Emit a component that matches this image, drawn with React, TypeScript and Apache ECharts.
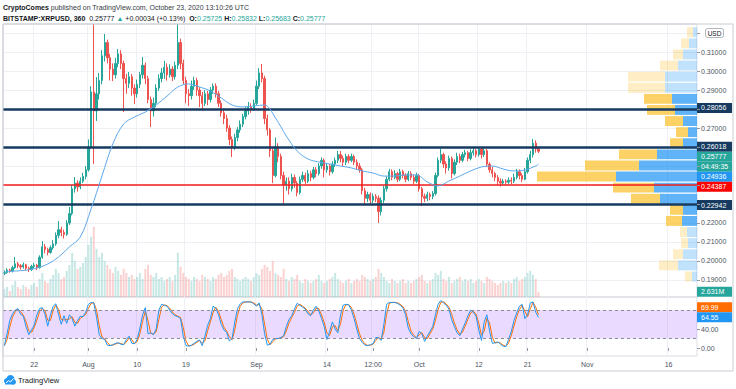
import React, { useEffect, useRef } from 'react';
import * as echarts from 'echarts';

// ---------- DATA (12-hour candles) ----------
const firstOpen = 0.1935;
const closes = [
  0.1940, 0.1952, 0.1948, 0.1965, 0.1985, 0.1975, 0.1968, 0.1980, 0.1962, 0.1955,
  0.1972, 0.1978, 0.1965, 0.2020, 0.2075, 0.2060, 0.2045, 0.2070, 0.2090, 0.2135,
  0.2165, 0.2150, 0.2140, 0.2200, 0.2250, 0.2380, 0.2410, 0.2390, 0.2420, 0.2445,
  0.2480, 0.2600, 0.2890, 0.2790, 0.2880, 0.2950, 0.3080, 0.3150, 0.3070, 0.3010,
  0.2980, 0.3040, 0.3090, 0.3040, 0.2960, 0.2935, 0.2970, 0.2910, 0.2880, 0.2930,
  0.2980, 0.3030, 0.2960, 0.2850, 0.2790, 0.2830, 0.2910, 0.2960, 0.2990, 0.3020,
  0.2980, 0.3010, 0.2970, 0.3030, 0.3150, 0.3040, 0.2950, 0.2880, 0.2870, 0.2920,
  0.2950, 0.2900, 0.2870, 0.2830, 0.2880, 0.2850, 0.2900, 0.2920, 0.2880, 0.2830,
  0.2780, 0.2750, 0.2700, 0.2640, 0.2600, 0.2650, 0.2690, 0.2720, 0.2760, 0.2790,
  0.2810, 0.2800, 0.2830, 0.2920, 0.2990, 0.2960, 0.2750, 0.2690, 0.2580, 0.2450,
  0.2600, 0.2550, 0.2450, 0.2400, 0.2420, 0.2380, 0.2440, 0.2410, 0.2360, 0.2430,
  0.2450, 0.2420, 0.2460, 0.2440, 0.2480, 0.2460, 0.2500, 0.2530, 0.2480, 0.2500,
  0.2470, 0.2510, 0.2530, 0.2560, 0.2540, 0.2520, 0.2550, 0.2530, 0.2550, 0.2520,
  0.2500, 0.2480, 0.2370, 0.2330, 0.2350, 0.2320, 0.2340, 0.2330, 0.2260, 0.2320,
  0.2380, 0.2430, 0.2470, 0.2440, 0.2460, 0.2430, 0.2470, 0.2450, 0.2430, 0.2460,
  0.2440, 0.2420, 0.2450, 0.2380, 0.2340, 0.2330, 0.2350, 0.2340, 0.2355, 0.2450,
  0.2530, 0.2560, 0.2510, 0.2490, 0.2540, 0.2460, 0.2520, 0.2550, 0.2530, 0.2560,
  0.2570, 0.2540, 0.2570, 0.2580, 0.2560, 0.2590, 0.2560, 0.2580, 0.2510, 0.2480,
  0.2460, 0.2440, 0.2420, 0.2410, 0.2420, 0.2415, 0.2425, 0.2420, 0.2440, 0.2470,
  0.2450, 0.2430, 0.2470, 0.2530, 0.2560, 0.2620, 0.2590, 0.25777,
];
const lows = [
  0.1925, 0.1932, 0.1938, 0.1940, 0.1958, 0.1962, 0.1955, 0.1960, 0.1950, 0.1942,
  0.1948, 0.1962, 0.1952, 0.1960, 0.2012, 0.2040, 0.2030, 0.2038, 0.2060, 0.2080,
  0.2120, 0.2130, 0.2118, 0.2132, 0.2190, 0.2240, 0.2360, 0.2365, 0.2378, 0.2410,
  0.2430, 0.2470, 0.2590, 0.2511, 0.2737, 0.2850, 0.2930, 0.3050, 0.3040, 0.2950,
  0.2947, 0.2960, 0.3020, 0.3010, 0.2784, 0.2880, 0.2910, 0.2870, 0.2826, 0.2860,
  0.2910, 0.2960, 0.2930, 0.2830, 0.2705, 0.2760, 0.2810, 0.2895, 0.2940, 0.2960,
  0.2950, 0.2965, 0.2947, 0.2955, 0.3010, 0.3010, 0.2930, 0.2830, 0.2816, 0.2850,
  0.2900, 0.2870, 0.2810, 0.2790, 0.2815, 0.2820, 0.2835, 0.2880, 0.2860, 0.2810,
  0.2760, 0.2720, 0.2680, 0.2610, 0.2547, 0.2585, 0.2630, 0.2675, 0.2705, 0.2745,
  0.2770, 0.2780, 0.2790, 0.2820, 0.2905, 0.2940, 0.2720, 0.2660, 0.2547, 0.2410,
  0.2440, 0.2520, 0.2430, 0.2300, 0.2370, 0.2350, 0.2365, 0.2385, 0.2340, 0.2350,
  0.2415, 0.2405, 0.2410, 0.2420, 0.2430, 0.2440, 0.2450, 0.2485, 0.2440, 0.2465,
  0.2450, 0.2460, 0.2495, 0.2515, 0.2520, 0.2500, 0.2505, 0.2515, 0.2520, 0.2505,
  0.2480, 0.2465, 0.2350, 0.2300, 0.2310, 0.2300, 0.2305, 0.2310, 0.2200, 0.2240,
  0.2305, 0.2365, 0.2420, 0.2425, 0.2430, 0.2415, 0.2420, 0.2435, 0.2415, 0.2420,
  0.2425, 0.2405, 0.2410, 0.2365, 0.2290, 0.2310, 0.2315, 0.2320, 0.2325, 0.2345,
  0.2440, 0.2515, 0.2490, 0.2460, 0.2475, 0.2435, 0.2450, 0.2505, 0.2515, 0.2520,
  0.2545, 0.2525, 0.2530, 0.2555, 0.2545, 0.2550, 0.2540, 0.2548, 0.2495, 0.2465,
  0.2440, 0.2420, 0.2400, 0.2392, 0.2398, 0.2400, 0.2402, 0.2405, 0.2410, 0.2430,
  0.2430, 0.2415, 0.2425, 0.2460, 0.2515, 0.2545, 0.2570, 0.25683,
];
const highs = [
  0.1950, 0.1962, 0.1960, 0.1975, 0.2021, 0.1995, 0.1984, 0.1992, 0.1986, 0.1970,
  0.1980, 0.1990, 0.1985, 0.2030, 0.2105, 0.2090, 0.2070, 0.2082, 0.2110, 0.2150,
  0.2210, 0.2180, 0.2165, 0.2215, 0.2284, 0.2400, 0.2442, 0.2425, 0.2440, 0.2465,
  0.2500, 0.2640, 0.2920, 0.3247, 0.2968, 0.2990, 0.3110, 0.3195, 0.3165, 0.3090,
  0.3040, 0.3070, 0.3116, 0.3110, 0.3055, 0.2985, 0.2995, 0.2985, 0.2930, 0.2955,
  0.2995, 0.3074, 0.3045, 0.2975, 0.2865, 0.2860, 0.2930, 0.2982, 0.3015, 0.3053,
  0.3040, 0.3035, 0.3025, 0.3050, 0.3247, 0.3170, 0.3060, 0.2970, 0.2905, 0.2950,
  0.2970, 0.2965, 0.2915, 0.2890, 0.2900, 0.2895, 0.2915, 0.2935, 0.2935, 0.2895,
  0.2845, 0.2800, 0.2770, 0.2715, 0.2655, 0.2670, 0.2705, 0.2740, 0.2775, 0.2810,
  0.2837, 0.2830, 0.2850, 0.2950, 0.3015, 0.3037, 0.2975, 0.2770, 0.2700, 0.2600,
  0.2650, 0.2620, 0.2565, 0.2470, 0.2440, 0.2440, 0.2460, 0.2455, 0.2420, 0.2445,
  0.2470, 0.2465, 0.2480, 0.2475, 0.2495, 0.2495, 0.2515, 0.2545, 0.2540, 0.2515,
  0.2510, 0.2525, 0.2545, 0.2580, 0.2579, 0.2555, 0.2565, 0.2562, 0.2565, 0.2560,
  0.2535, 0.2515, 0.2490, 0.2385, 0.2365, 0.2360, 0.2355, 0.2352, 0.2345, 0.2335,
  0.2395, 0.2445, 0.2485, 0.2482, 0.2478, 0.2470, 0.2485, 0.2480, 0.2462, 0.2474,
  0.2472, 0.2455, 0.2465, 0.2458, 0.2390, 0.2355, 0.2365, 0.2360, 0.2368, 0.2465,
  0.2545, 0.2590, 0.2570, 0.2525, 0.2555, 0.2550, 0.2535, 0.2570, 0.2565, 0.2575,
  0.2585, 0.2580, 0.2588, 0.2600, 0.2592, 0.2600, 0.2598, 0.2595, 0.2590, 0.2520,
  0.2495, 0.2470, 0.2452, 0.2435, 0.2432, 0.2430, 0.2440, 0.2440, 0.2460, 0.2485,
  0.2482, 0.2462, 0.2490, 0.2545, 0.2580, 0.2642, 0.2635, 0.25832,
];
// volume in millions XRP
const volumes = [
  4, 5, 3, 6, 8, 5, 4, 6, 5, 4,
  6, 7, 5, 9, 12, 8, 7, 9, 11, 14,
  12, 9, 10, 13, 16, 22, 18, 14, 15, 17,
  20, 26, 30, 35, 24, 20, 22, 18, 16, 14,
  12, 15, 13, 11, 14, 12, 10, 11, 9, 10,
  12, 9, 14, 16, 11, 10, 12, 9, 10, 8,
  9, 10, 8, 11, 22, 15, 12, 10, 9, 8,
  10, 9, 8, 11, 10, 9, 8, 10, 9, 11,
  12, 10, 11, 13, 14, 10, 9, 8, 9, 10,
  9, 8, 10, 12, 11, 14, 16, 15, 13, 18,
  12, 11, 10, 14, 9, 8, 10, 9, 11, 8,
  7, 9, 8, 7, 8, 9, 11, 8, 7, 8,
  9, 10, 12, 9, 8, 7, 8, 9, 7, 8,
  9, 8, 11, 10, 9, 8, 9, 10, 14, 12,
  10, 8, 7, 9, 8, 7, 8, 9, 7, 8,
  7, 8, 9, 10, 11, 8, 7, 8, 9, 12,
  11, 13, 9, 8, 10, 7, 8, 9, 10, 8,
  9, 8, 9, 7, 8, 9, 8, 7, 10, 9,
  8, 7, 6, 7, 8, 7, 8, 7, 9, 10,
  8, 9, 10, 12, 13, 11, 9, 2.631,
];
// Stochastic %K
const stochK = [
  5, 30, 58, 72, 80, 83, 71, 67, 45, 28,
  38, 48, 70, 83, 85, 71, 46, 70, 88, 93,
  70, 50, 68, 52, 70, 62, 46, 58, 67, 66,
  75, 92, 96, 95, 65, 28, 20, 18, 6, 5,
  7, 10, 11, 8, 7, 18, 25, 10, 9, 18,
  42, 70, 85, 30, 32, 28, 40, 80, 92, 90,
  88, 80, 72, 68, 66, 62, 25, 5, 4, 6,
  10, 14, 17, 5, 25, 48, 62, 88, 84, 70,
  50, 38, 33, 15, 20, 55, 83, 93, 97, 97,
  97, 97, 93, 88, 95, 70, 30, 6, 8, 18,
  20, 20, 22, 26, 45, 60, 68, 82, 94, 90,
  86, 82, 72, 68, 80, 88, 78, 62, 45, 18,
  35, 55, 40, 32, 70, 90, 92, 91, 80, 62,
  40, 20, 12, 6, 5, 7, 9, 22, 22, 16,
  50, 92, 96, 96, 96, 94, 90, 85, 70, 42,
  30, 24, 20, 35, 30, 14, 25, 35, 45, 70,
  92, 100, 95, 90, 82, 60, 45, 32, 26, 40,
  53, 68, 80, 75, 67, 38, 16, 55, 70, 35,
  10, 11, 13, 8, 4, 3, 18, 35, 58, 74,
  88, 92, 62, 70, 95, 97, 75.43, 64.55,
];
// moving average read every 4th candle
const maStep = 4;
const maValues = [
  0.1942, 0.1947, 0.1952, 0.1963, 0.1984, 0.2021, 0.2074, 0.2126, 0.2274, 0.2447,
  0.2616, 0.2721, 0.2758, 0.2784, 0.2821, 0.2868, 0.2916, 0.2932, 0.2916, 0.2895,
  0.2858, 0.2821, 0.2811, 0.2816, 0.2821, 0.2753, 0.2658, 0.2579, 0.2537, 0.2521,
  0.2511, 0.2500, 0.2490, 0.2474, 0.2463, 0.2447, 0.2447, 0.2453, 0.2453, 0.2416,
  0.2395, 0.2421, 0.2447, 0.2474, 0.2495, 0.2500, 0.2484, 0.2474, 0.2479, 0.2500,
];
const maLast = 0.2510;

// volume profile (visible range), rows from top
const vpTop = 0.32332;
const vpStep = 0.005842;
const vpUp = [4, 8, 14, 19, 32, 32, 25, 22, 14, 9, 14, 40, 58, 81, 43, 37, 14, 15, 10, 9, 14, 19, 5];
const vpDown = [6, 8, 10, 18, 37, 37, 28, 28, 18, 12, 13, 38, 54, 79, 41, 29, 13, 16, 7, 7, 10, 19, 7];
const vpValueArea = [6, 17];

const levelLines = [0.28056, 0.26018, 0.22942];
const redLevel = 0.24387;
const lastPrice = 0.25777;
const pocPrice = 0.24936;
const countdown = '04:49:35';
const lastVolumeText = '2.631M';

const priceTicks = [0.19, 0.2, 0.21, 0.22, 0.23, 0.24, 0.25, 0.26, 0.27, 0.28, 0.29, 0.3, 0.31, 0.32];
const priceLabels = [0.19, 0.2, 0.21, 0.22, 0.27, 0.29, 0.3, 0.31];
const stochLabels = [0, 40];

const timeLabels: Record<string, string> = {
  '2020-07-22 00:00': '22',
  '2020-08-01 00:00': 'Aug',
  '2020-08-10 00:00': '10',
  '2020-08-19 00:00': '19',
  '2020-09-01 00:00': 'Sep',
  '2020-09-14 00:00': '14',
  '2020-09-22 12:00': '12:00',
  '2020-10-01 00:00': 'Oct',
  '2020-10-12 00:00': '12',
  '2020-10-21 00:00': '21',
  '2020-11-01 00:00': 'Nov',
  '2020-11-16 00:00': '16',
};
const startUTC = Date.UTC(2020, 6, 16, 12);
const slotCount = 256;

// ---------- STYLE ----------
const FONT = "'Liberation Sans', Arial, sans-serif";
const UP = '#26a69a';
const DOWN = '#ef5350';
const NAVY = '#163a60';

const pad = (n: number) => String(n).padStart(2, '0');
const categories = Array.from({ length: slotCount }, (_, i) => {
  const d = new Date(startUTC + i * 12 * 3600 * 1000);
  return `${d.getUTCFullYear()}-${pad(d.getUTCMonth() + 1)}-${pad(d.getUTCDate())} ${pad(d.getUTCHours())}:${pad(d.getUTCMinutes())}`;
});
const isLabelled = (i: number) => !!timeLabels[categories[i]];

const opens = closes.map((_, i) => (i === 0 ? firstOpen : closes[i - 1]));
const candleData = closes.map((c, i) => [opens[i], c, lows[i], highs[i]]);
const volumeData = volumes.map((v, i) => ({
  value: v,
  itemStyle: { color: closes[i] >= opens[i] ? 'rgba(38,166,154,0.26)' : 'rgba(239,83,80,0.26)' },
}));
const maData: any[] = maValues.map((v, j) => [j * maStep, v]);
maData.push([closes.length - 1, maLast]);
const stochD = stochK.map((k, i) => (i === 0 ? k : (stochK[i - 1] + k) / 2));
const vpData = vpUp.map((u, k) => [k, u, vpDown[k]]);

const GRID_L = 3;
const GRID_W = 694;
const MAIN_TOP = 24;
const MAIN_H = 273;
const ST_TOP = 297;
const ST_H = 59;

export default function App() {
  const ref = useRef<HTMLDivElement>(null);
  useEffect(() => {
    const chart = echarts.init(ref.current!, null, { renderer: 'svg' });
    const option: any = {
      animation: false,
      textStyle: { fontFamily: FONT },
      grid: [
        { left: GRID_L, top: MAIN_TOP, width: GRID_W, height: MAIN_H, show: true, borderColor: '#d9dce3', borderWidth: 1 },
        { left: GRID_L, top: ST_TOP, width: GRID_W, height: ST_H, show: true, borderColor: '#d9dce3', borderWidth: 1 },
      ],
      xAxis: [
        {
          type: 'category', gridIndex: 0, data: categories, boundaryGap: true,
          axisLine: { show: false }, axisTick: { show: false }, axisLabel: { show: false },
          splitLine: { show: true, interval: (i: number) => isLabelled(i), lineStyle: { color: '#eef0f5', width: 1 } },
        },
        {
          type: 'category', gridIndex: 1, data: categories, boundaryGap: true,
          axisLine: { show: false },
          axisTick: { show: true, interval: (i: number) => isLabelled(i), alignWithLabel: true, length: 3, lineStyle: { color: '#9598a1' } },
          axisLabel: { interval: (i: number) => isLabelled(i), formatter: (v: string) => timeLabels[v] ?? '', fontSize: 7, color: '#4c525e', margin: 5, fontFamily: FONT },
          splitLine: { show: true, interval: (i: number) => isLabelled(i), lineStyle: { color: '#eef0f5', width: 1 } },
        },
        { type: 'value', gridIndex: 0, inverse: true, min: 0, max: GRID_W, show: false },
      ],
      yAxis: [
        {
          type: 'value', gridIndex: 0, position: 'right', min: 0.18105, max: 0.32474,
          axisLine: { show: false },
          axisTick: { show: true, customValues: priceTicks, length: 3, lineStyle: { color: '#9598a1' } },
          axisLabel: { customValues: priceLabels, formatter: (v: number) => v.toFixed(5), fontSize: 7, color: '#4c525e', margin: 4, fontFamily: FONT },
          splitLine: { show: true, lineStyle: { color: '#eef0f5', width: 1 } },
        },
        { type: 'value', gridIndex: 0, min: 0, max: 136, show: false },
        {
          type: 'value', gridIndex: 1, position: 'right', min: -16.8, max: 107.4,
          axisLine: { show: false },
          axisTick: { show: true, customValues: stochLabels, length: 3, lineStyle: { color: '#9598a1' } },
          axisLabel: { customValues: stochLabels, formatter: (v: number) => v.toFixed(2), fontSize: 7, color: '#4c525e', margin: 4, fontFamily: FONT },
          splitLine: { show: false },
        },
      ],
      series: [
        {
          name: 'Volume', type: 'bar', xAxisIndex: 0, yAxisIndex: 1, data: volumeData,
          barWidth: 2, z: 1, silent: true,
        },
        {
          name: 'XRPUSD', type: 'candlestick', xAxisIndex: 0, yAxisIndex: 0, data: candleData,
          barWidth: 1.8, z: 2, silent: true,
          itemStyle: { color: UP, color0: DOWN, borderColor: UP, borderColor0: DOWN, borderWidth: 1 },
          markLine: {
            silent: true, symbol: ['none', 'none'], label: { show: false },
            data: [{ yAxis: lastPrice, lineStyle: { color: UP, type: [1, 2], width: 1 } }],
          },
        },
        {
          name: 'Volume profile', type: 'custom', xAxisIndex: 2, yAxisIndex: 0, data: vpData, z: 3, silent: true,
          renderItem: (params: any, api: any) => {
            const k = api.value(0);
            const up = api.value(1);
            const down = api.value(2);
            const top = vpTop - k * vpStep;
            const bottom = top - vpStep;
            const faded = k < vpValueArea[0] || k > vpValueArea[1];
            const pR = api.coord([0, top]);
            const pU = api.coord([up, bottom]);
            const pD = api.coord([up + down, bottom]);
            const y = pR[1] + 0.6;
            const h = pU[1] - pR[1] - 1.2;
            return {
              type: 'group',
              children: [
                { type: 'rect', shape: { x: pU[0], y, width: pR[0] - pU[0], height: h }, style: { fill: faded ? 'rgba(33,150,243,0.28)' : 'rgba(33,150,243,0.72)' } },
                { type: 'rect', shape: { x: pD[0], y, width: pU[0] - pD[0], height: h }, style: { fill: faded ? 'rgba(251,192,45,0.28)' : 'rgba(251,192,45,0.72)' } },
              ],
            };
          },
        },
        {
          name: 'MA', type: 'line', xAxisIndex: 0, yAxisIndex: 0, data: maData, smooth: 0.35,
          showSymbol: false, z: 5, silent: true,
          lineStyle: { color: '#5ea9ec', width: 1 },
          markLine: {
            silent: true, symbol: ['none', 'none'], label: { show: false },
            data: [
              ...levelLines.map((v) => ({ yAxis: v, lineStyle: { color: NAVY, width: 2.5, type: 'solid' } })),
              { yAxis: redLevel, lineStyle: { color: '#f01e1e', width: 1.5, type: 'solid' } },
            ],
          },
        },
        {
          name: '%D', type: 'line', xAxisIndex: 1, yAxisIndex: 2, data: stochD, showSymbol: false, z: 3, silent: true,
          lineStyle: { color: '#ff6d00', width: 1 },
        },
        {
          name: '%K', type: 'line', xAxisIndex: 1, yAxisIndex: 2, data: stochK, showSymbol: false, z: 4, silent: true,
          lineStyle: { color: '#2196f3', width: 1 },
          markArea: {
            silent: true,
            itemStyle: { color: 'rgba(149,68,255,0.2)' },
            data: [[{ yAxis: 20 }, { yAxis: 80 }]],
          },
          markLine: {
            silent: true, symbol: ['none', 'none'], label: { show: false },
            lineStyle: { color: '#8a8d96', type: [3, 3], width: 1 },
            data: [{ yAxis: 20 }, { yAxis: 80 }],
          },
        },
      ],
    };
    chart.setOption(option);

    const py = (v: number) => chart.convertToPixel({ yAxisIndex: 0 }, v) as number;
    const vy = (v: number) => chart.convertToPixel({ yAxisIndex: 1 }, v) as number;
    const sy = (v: number) => chart.convertToPixel({ yAxisIndex: 2 }, v) as number;
    const TAG_X = GRID_L + GRID_W;
    const TAG_W = 35;
    const TAG_H = 10;
    const tag = (text: string, yc: number, bg: string) => ({
      type: 'group',
      children: [
        { type: 'rect', shape: { x: TAG_X, y: yc - TAG_H / 2, width: TAG_W, height: TAG_H }, style: { fill: bg } },
        { type: 'text', x: TAG_X + 4, y: yc, style: { text, fill: '#ffffff', fontSize: 7, fontFamily: FONT, verticalAlign: 'middle', align: 'left' } },
      ],
    });

    const stack = [
      { text: levelLines[0].toFixed(5), y: py(levelLines[0]), bg: NAVY },
      { text: levelLines[1].toFixed(5), y: py(levelLines[1]), bg: NAVY },
      { text: lastPrice.toFixed(5), y: py(lastPrice), bg: UP },
      { text: countdown, y: py(lastPrice) + TAG_H, bg: UP },
      { text: pocPrice.toFixed(5), y: py(pocPrice), bg: '#2196f3' },
      { text: redLevel.toFixed(5), y: py(redLevel), bg: '#ff0000' },
      { text: levelLines[2].toFixed(5), y: py(levelLines[2]), bg: NAVY },
    ];
    let last = -1e9;
    const tags: any[] = stack.map((s) => {
      const y = Math.max(s.y, last + TAG_H);
      last = y;
      return tag(s.text, y, s.bg);
    });
    tags.push(tag(lastVolumeText, vy(volumes[volumes.length - 1]), UP));
    const kLast = stochK[stochK.length - 1];
    const dLast = stochD[stochD.length - 1];
    const kY = sy(kLast);
    const dY = Math.min(sy(dLast), kY - TAG_H);
    tags.push(tag(dLast.toFixed(2), dY, '#ff6d00'));
    tags.push(tag(kLast.toFixed(2), kY, '#2196f3'));

    const usdY = py(0.32);
    const graphic: any[] = [
      { type: 'rect', shape: { x: 3, y: 24, width: 730, height: 347 }, style: { fill: 'none', stroke: '#c9ccd4', lineWidth: 1 }, z: 10 },
      ...tags,
      {
        type: 'group',
        children: [
          { type: 'rect', shape: { x: 705.5, y: usdY - 4.5, width: 18, height: 9, r: 2 }, style: { fill: '#ffffff', stroke: '#b2b5be', lineWidth: 1 } },
          { type: 'text', x: 714.5, y: usdY, style: { text: 'USD', fill: '#131722', fontSize: 6.5, fontFamily: FONT, align: 'center', verticalAlign: 'middle' } },
        ],
      },
      {
        type: 'text', x: 3, y: 7,
        style: {
          text: '{b|CryptoComes} {n|published on TradingView.com, October 23, 2020 13:10:26 UTC}',
          verticalAlign: 'middle', fontSize: 7, fontFamily: FONT,
          rich: {
            b: { fontWeight: 'bold', fill: '#131722', fontSize: 7, fontFamily: FONT },
            n: { fill: '#363a45', fontSize: 7, fontFamily: FONT },
          },
        },
      },
      {
        type: 'text', x: 3, y: 18,
        style: {
          text: '{b|BITSTAMP:XRPUSD, 360}  {n|0.25777} {g|▲} {n|+0.00034 (+0.13%)}  {b|O:}{g|0.25725} {b|H:}{g|0.25832} {b|L:}{g|0.25683} {b|C:}{g|0.25777}',
          verticalAlign: 'middle', fontSize: 7, fontFamily: FONT,
          rich: {
            b: { fontWeight: 'bold', fill: '#131722', fontSize: 7, fontFamily: FONT },
            n: { fill: '#131722', fontSize: 7, fontFamily: FONT },
            g: { fill: UP, fontSize: 7, fontFamily: FONT },
          },
        },
      },
      { type: 'circle', shape: { cx: 7, cy: 381, r: 3 }, style: { fill: '#2196f3' } },
      { type: 'circle', shape: { cx: 10.5, cy: 379, r: 4 }, style: { fill: '#2196f3' } },
      { type: 'circle', shape: { cx: 13.5, cy: 382, r: 2.5 }, style: { fill: '#2196f3' } },
      { type: 'rect', shape: { x: 5, y: 381, width: 9, height: 3.5 }, style: { fill: '#2196f3' } },
      { type: 'polyline', shape: { points: [[6, 383], [8.5, 380.5], [10.5, 382], [13.5, 378.5]] }, style: { stroke: '#ffffff', lineWidth: 1, fill: 'none' } },
      { type: 'text', x: 18, y: 380.5, style: { text: 'TradingView', fill: '#131722', fontSize: 7.5, fontFamily: FONT, verticalAlign: 'middle' } },
    ];
    chart.setOption({ graphic });
    return () => chart.dispose();
  }, []);
  return <div ref={ref} style={{ position: 'absolute', left: 0, top: 0, width: 736, height: 389 }} />;
}
